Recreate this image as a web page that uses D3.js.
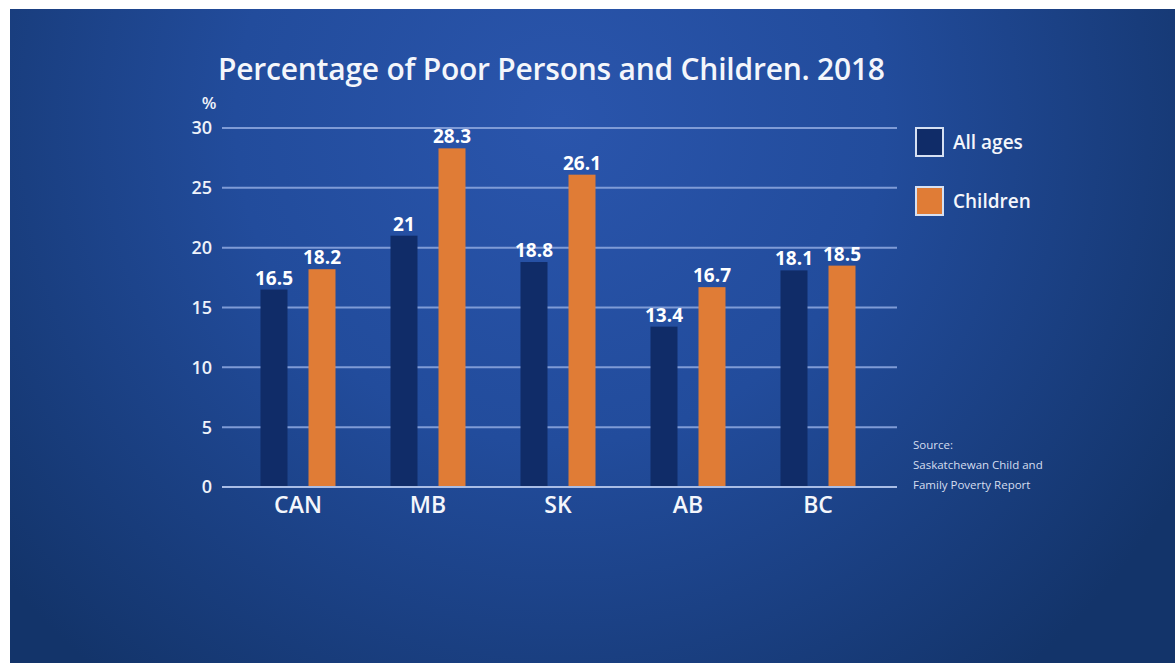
<!DOCTYPE html>
<html>
<head>
<meta charset="utf-8">
<script src="https://cdn.jsdelivr.net/npm/d3@7"></script>
<style>
  html, body { margin: 0; padding: 0; background: #fff; }
  svg { display: block; font-family: "Open Sans", "DejaVu Sans", sans-serif; }
</style>
</head>
<body>
<svg id="chart" width="1175" height="663"></svg>
<script>
// data
const regions = ["CAN", "MB", "SK", "AB", "BC"];
const seriesNames = ["All ages", "Children"];
const allAges = [16.5, 21, 18.8, 13.4, 18.1];
const children = [18.2, 28.3, 26.1, 16.7, 18.5];
const yTicks = [0, 5, 10, 15, 20, 25, 30];
const sourceLines = ["Source:", "Saskatchewan Child and", "Family Poverty Report"];

const colors = {"All ages": "#102c68", "Children": "#e07c36"};

const svg = d3.select("#chart");
const W = 1175, H = 663;

// background gradient
const defs = svg.append("defs");
const grad = defs.append("radialGradient")
    .attr("id", "bg")
    .attr("gradientUnits", "userSpaceOnUse")
    .attr("cx", 560).attr("cy", 120).attr("r", 720);
grad.append("stop").attr("offset", "0%").attr("stop-color", "#2a55ac");
grad.append("stop").attr("offset", "45%").attr("stop-color", "#224c9c");
grad.append("stop").attr("offset", "100%").attr("stop-color", "#13346a");

svg.append("rect")
    .attr("x", 10).attr("y", 9)
    .attr("width", W - 10).attr("height", H - 9)
    .attr("fill", "url(#bg)");

const rows = regions.map((r, i) => ({region: r, "All ages": allAges[i], "Children": children[i]}));

const x0 = d3.scaleBand().domain(regions).range([233, 883]).paddingInner(0.423).paddingOuter(0.2115);
const x1 = d3.scaleBand().domain(seriesNames).range([0, x0.bandwidth()]).paddingInner(0.4375);
const y = d3.scaleLinear().domain([0, 30]).range([487, 128]);

// grid lines
svg.append("g")
  .selectAll("line")
  .data(yTicks)
  .join("line")
    .attr("x1", 222).attr("x2", 897)
    .attr("y1", d => y(d)).attr("y2", d => y(d))
    .attr("stroke", d => d === 0 ? "#a9bde6" : "#7f9bd6")
    .attr("stroke-width", 2);

// y tick labels
svg.append("g")
  .selectAll("text")
  .data(yTicks)
  .join("text")
    .attr("x", 212)
    .attr("y", d => y(d))
    .attr("dy", "0.36em")
    .attr("text-anchor", "end")
    .attr("fill", "#eef2fa")
    .attr("font-size", 18)
    .attr("font-weight", 600)
    .text(d => d);

svg.append("text")
    .attr("x", 209).attr("y", 109)
    .attr("text-anchor", "middle")
    .attr("fill", "#eef2fa")
    .attr("font-size", 17)
    .attr("font-weight", 600)
    .text("%");

// bars
const groups = svg.append("g")
  .selectAll("g")
  .data(rows)
  .join("g")
    .attr("transform", d => `translate(${x0(d.region)},0)`);

groups.selectAll("rect")
  .data(d => seriesNames.map(k => ({key: k, value: d[k]})))
  .join("rect")
    .attr("x", d => x1(d.key))
    .attr("y", d => y(d.value))
    .attr("width", x1.bandwidth())
    .attr("height", d => y(0) - y(d.value) - 1)
    .attr("fill", d => colors[d.key]);

groups.selectAll("text")
  .data(d => seriesNames.map(k => ({key: k, value: d[k]})))
  .join("text")
    .attr("x", d => x1(d.key) + x1.bandwidth() / 2)
    .attr("y", d => y(d.value) - 5)
    .attr("text-anchor", "middle")
    .attr("fill", "#ffffff")
    .attr("font-size", 19)
    .attr("font-weight", "bold")
    .text(d => d.value);

// category labels
svg.append("g")
  .selectAll("text")
  .data(regions)
  .join("text")
    .attr("x", d => x0(d) + x0.bandwidth() / 2)
    .attr("y", 513)
    .attr("text-anchor", "middle")
    .attr("fill", "#f4f6fb")
    .attr("font-size", 23)
    .attr("font-weight", 600)
    .text(d => d);

// title
svg.append("text")
    .attr("x", 218).attr("y", 80)
    .attr("fill", "#f4f6fb")
    .attr("font-size", 30)
    .attr("font-weight", 600)
    .attr("textLength", 667)
    .attr("lengthAdjust", "spacing")
    .text("Percentage of Poor Persons and Children. 2018");

// legend
const legend = svg.append("g")
  .selectAll("g")
  .data(seriesNames)
  .join("g")
    .attr("transform", (d, i) => `translate(916,${128 + i * 59})`);

legend.append("rect")
    .attr("width", 27).attr("height", 28)
    .attr("fill", d => colors[d])
    .attr("stroke", "#d6e0f2")
    .attr("stroke-width", 2);

legend.append("text")
    .attr("x", 37).attr("y", 14)
    .attr("dy", "0.35em")
    .attr("fill", "#f4f6fb")
    .attr("font-size", 19)
    .attr("font-weight", 600)
    .text(d => d);

// source note
svg.append("g")
  .selectAll("text")
  .data(sourceLines)
  .join("text")
    .attr("x", 913)
    .attr("y", (d, i) => 449 + i * 20)
    .attr("fill", "#d5ddef")
    .attr("font-size", 11.5)
    .text(d => d);
</script>
</body>
</html>
